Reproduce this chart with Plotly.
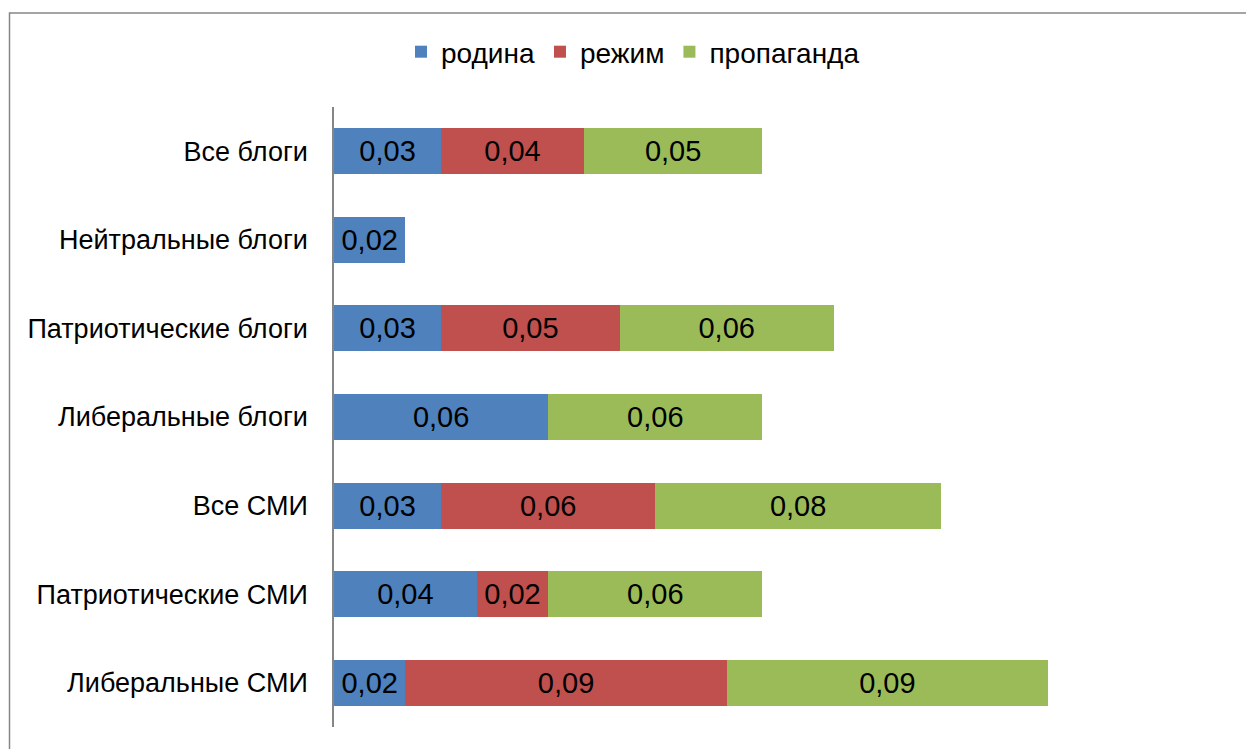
import plotly.graph_objects as go

categories = ["Все блоги", "Нейтральные блоги", "Патриотические блоги", "Либеральные блоги",
              "Все СМИ", "Патриотические СМИ", "Либеральные СМИ"]
rodina = [0.03, 0.02, 0.03, 0.06, 0.03, 0.04, 0.02]
rezhim = [0.04, None, 0.05, None, 0.06, 0.02, 0.09]
propaganda = [0.05, None, 0.06, 0.06, 0.08, 0.06, 0.09]

series = [("родина", rodina, "#4F81BD"), ("режим", rezhim, "#C0504D"), ("пропаганда", propaganda, "#9BBB59")]

W, H = 1246, 749
FONT = "Liberation Sans, Arial, sans-serif"

fig = go.Figure()
for name, vals, color in series:
    fig.add_trace(go.Bar(
        y=categories, x=vals, name=name, orientation="h",
        marker=dict(color=color, line=dict(width=0)),
        texttemplate="%{x:.2f}", textposition="inside", insidetextanchor="middle",
        textangle=0, constraintext="none",
        textfont=dict(family=FONT, size=29, color="black"),
    ))

x0 = 334
x1 = x0 + 892.5
y_top, y_bot = 107, 727
fig.update_layout(
    width=W, height=H, barmode="stack", bargap=0.48,
    separators=", ",
    margin=dict(l=0, r=0, t=0, b=0),
    paper_bgcolor="white", plot_bgcolor="white",
    font=dict(family=FONT, size=27, color="black"),
    showlegend=True,
    legend=dict(orientation="h", x=633 / W, xanchor="center", y=1 - 27 / H, yanchor="top",
                font=dict(family=FONT, size=28, color="black"), traceorder="normal",
                itemwidth=30),
    xaxis=dict(domain=[x0 / W, x1 / W], range=[0, 0.25], visible=False, showgrid=False),
    yaxis=dict(domain=[1 - y_bot / H, 1 - y_top / H], autorange="reversed",
               showline=True, linecolor="#868686", linewidth=1.5, showgrid=False,
               ticks="outside", ticklen=0, ticklabelstandoff=19,
               tickfont=dict(family=FONT, size=27, color="black")),
    shapes=[dict(type="rect", xref="paper", yref="paper", x0=9.5 / W, x1=1.05,
                 y0=-0.05, y1=1 - 13 / H,
                 line=dict(color="#868686", width=1.5), fillcolor="rgba(0,0,0,0)")],
)

fig.write_html("out.html", config={"displayModeBar": False},
               post_script="document.body.style.margin='0';document.body.style.overflow='hidden';")
